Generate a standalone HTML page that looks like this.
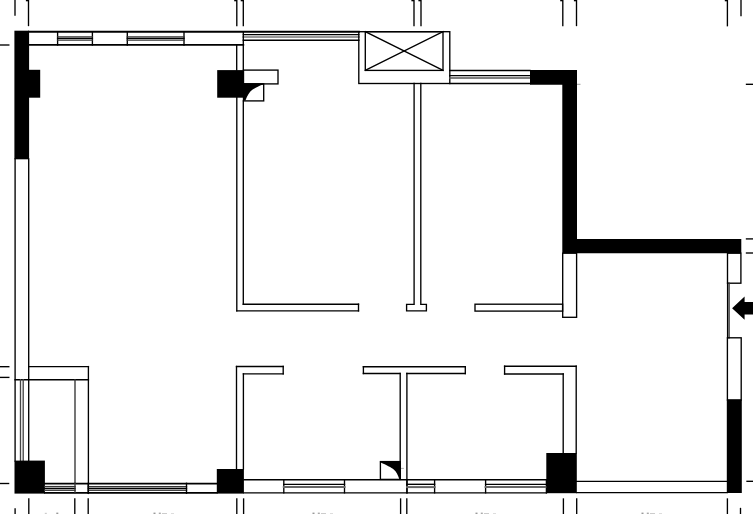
<!DOCTYPE html>
<html><head><meta charset="utf-8"><style>
html,body{margin:0;padding:0;background:#fff;width:753px;height:514px;overflow:hidden}
svg{display:block}
</style></head><body>
<svg width="753" height="514" viewBox="0 0 753 514">
<rect width="753" height="514" fill="#fff"/>
<line x1="15" y1="0" x2="15" y2="15" stroke="#000" stroke-width="1.35" stroke-linecap="square"/>
<line x1="28.5" y1="0" x2="28.5" y2="25.5" stroke="#000" stroke-width="1.35" stroke-linecap="square"/>
<line x1="236.8" y1="0" x2="236.8" y2="25.6" stroke="#000" stroke-width="1.35" stroke-linecap="square"/>
<line x1="243.3" y1="0" x2="243.3" y2="25.6" stroke="#000" stroke-width="1.35" stroke-linecap="square"/>
<line x1="414" y1="0" x2="414" y2="25.5" stroke="#000" stroke-width="1.35" stroke-linecap="square"/>
<line x1="421" y1="0" x2="421" y2="25.5" stroke="#000" stroke-width="1.35" stroke-linecap="square"/>
<line x1="562.8" y1="0" x2="562.8" y2="25.5" stroke="#000" stroke-width="1.35" stroke-linecap="square"/>
<line x1="576.5" y1="0" x2="576.5" y2="25.5" stroke="#000" stroke-width="1.35" stroke-linecap="square"/>
<line x1="727.4" y1="0" x2="727.4" y2="25.7" stroke="#000" stroke-width="1.35" stroke-linecap="square"/>
<line x1="741" y1="0" x2="741" y2="15.5" stroke="#000" stroke-width="1.35" stroke-linecap="square"/>
<rect x="25.9" y="0" width="2.6" height="1.3" fill="#000"/>
<rect x="234.20000000000002" y="0" width="2.6" height="1.3" fill="#000"/>
<rect x="240.70000000000002" y="0" width="2.6" height="1.3" fill="#000"/>
<rect x="411.4" y="0" width="2.6" height="1.3" fill="#000"/>
<rect x="418.4" y="0" width="2.6" height="1.3" fill="#000"/>
<rect x="560.1999999999999" y="0" width="2.6" height="1.3" fill="#000"/>
<rect x="573.9" y="0" width="2.6" height="1.3" fill="#000"/>
<rect x="724.8" y="0" width="2.6" height="1.3" fill="#000"/>
<rect x="153.5" y="512.6" width="2.0" height="1.4" fill="#999"/>
<rect x="158.8" y="512.6" width="2.0" height="1.4" fill="#aaa"/>
<rect x="162" y="513" width="5" height="1" fill="#ccc"/>
<rect x="171" y="513" width="3" height="1" fill="#ddd"/>
<rect x="312.5" y="512.6" width="2.0" height="1.4" fill="#999"/>
<rect x="317.8" y="512.6" width="2.0" height="1.4" fill="#aaa"/>
<rect x="321" y="513" width="5" height="1" fill="#ccc"/>
<rect x="330" y="513" width="3" height="1" fill="#ddd"/>
<rect x="475.5" y="512.6" width="2.0" height="1.4" fill="#999"/>
<rect x="480.8" y="512.6" width="2.0" height="1.4" fill="#aaa"/>
<rect x="484" y="513" width="5" height="1" fill="#ccc"/>
<rect x="493" y="513" width="3" height="1" fill="#ddd"/>
<rect x="641.5" y="512.6" width="2.0" height="1.4" fill="#999"/>
<rect x="646.8" y="512.6" width="2.0" height="1.4" fill="#aaa"/>
<rect x="650" y="513" width="5" height="1" fill="#ccc"/>
<rect x="659" y="513" width="3" height="1" fill="#ddd"/>
<rect x="44.8" y="512.8" width="2.0" height="1.2" fill="#ccc"/>
<rect x="56.3" y="512.6" width="2.0" height="1.4" fill="#999"/>
<line x1="0" y1="45" x2="8.8" y2="45" stroke="#000" stroke-width="1.35" stroke-linecap="square"/>
<line x1="0" y1="366.7" x2="8.8" y2="366.7" stroke="#000" stroke-width="1.35" stroke-linecap="square"/>
<line x1="0" y1="377.4" x2="8.8" y2="377.4" stroke="#000" stroke-width="1.35" stroke-linecap="square"/>
<line x1="0" y1="483.5" x2="8.6" y2="483.5" stroke="#000" stroke-width="1.35" stroke-linecap="square"/>
<line x1="746.5" y1="84.3" x2="753" y2="84.3" stroke="#000" stroke-width="1.35" stroke-linecap="square"/>
<line x1="746.5" y1="238.9" x2="753" y2="238.9" stroke="#000" stroke-width="1.35" stroke-linecap="square"/>
<line x1="746.5" y1="253" x2="753" y2="253" stroke="#000" stroke-width="1.35" stroke-linecap="square"/>
<line x1="747" y1="481.3" x2="753" y2="481.3" stroke="#000" stroke-width="1.35" stroke-linecap="square"/>
<line x1="577" y1="84.3" x2="580" y2="84.3" stroke="#888" stroke-width="0.8" stroke-linecap="square"/>
<line x1="15.1" y1="509" x2="15.1" y2="514" stroke="#000" stroke-width="1.35" stroke-linecap="square"/>
<line x1="28.8" y1="499" x2="28.8" y2="514" stroke="#000" stroke-width="1.35" stroke-linecap="square"/>
<line x1="74.8" y1="499" x2="74.8" y2="514" stroke="#000" stroke-width="1.35" stroke-linecap="square"/>
<line x1="88.2" y1="499" x2="88.2" y2="514" stroke="#000" stroke-width="1.35" stroke-linecap="square"/>
<line x1="236.8" y1="499" x2="236.8" y2="514" stroke="#000" stroke-width="1.35" stroke-linecap="square"/>
<line x1="243.6" y1="499" x2="243.6" y2="514" stroke="#000" stroke-width="1.35" stroke-linecap="square"/>
<line x1="400.6" y1="499" x2="400.6" y2="514" stroke="#000" stroke-width="1.35" stroke-linecap="square"/>
<line x1="406.8" y1="499" x2="406.8" y2="514" stroke="#000" stroke-width="1.35" stroke-linecap="square"/>
<line x1="563.4" y1="499" x2="563.4" y2="514" stroke="#000" stroke-width="1.35" stroke-linecap="square"/>
<line x1="576.7" y1="499" x2="576.7" y2="514" stroke="#000" stroke-width="1.35" stroke-linecap="square"/>
<line x1="727.4" y1="499" x2="727.4" y2="514" stroke="#000" stroke-width="1.35" stroke-linecap="square"/>
<line x1="740.5" y1="508.5" x2="740.5" y2="514" stroke="#000" stroke-width="1.35" stroke-linecap="square"/>
<line x1="15.1" y1="159" x2="15.1" y2="461" stroke="#000" stroke-width="1.35" stroke-linecap="square"/>
<line x1="28.7" y1="159" x2="28.7" y2="461" stroke="#000" stroke-width="1.35" stroke-linecap="square"/>
<rect x="14.4" y="30.7" width="14.7" height="128.6" fill="#000"/>
<rect x="29" y="69.8" width="11.2" height="27.9" fill="#000"/>
<line x1="15.1" y1="379.7" x2="88.4" y2="379.7" stroke="#000" stroke-width="1.35" stroke-linecap="square"/>
<line x1="28.7" y1="366.6" x2="88.4" y2="366.6" stroke="#000" stroke-width="1.35" stroke-linecap="square"/>
<line x1="88.4" y1="366.6" x2="88.4" y2="493.4" stroke="#000" stroke-width="1.35" stroke-linecap="square"/>
<line x1="75" y1="379.7" x2="75" y2="483.3" stroke="#333" stroke-width="1.35" stroke-linecap="square"/>
<line x1="20.5" y1="379.7" x2="20.5" y2="461" stroke="#444" stroke-width="1.35" stroke-linecap="square"/>
<line x1="23.2" y1="379.7" x2="23.2" y2="461" stroke="#444" stroke-width="1.35" stroke-linecap="square"/>
<rect x="14.5" y="460.6" width="30.4" height="33.0" fill="#000"/>
<line x1="29" y1="31.8" x2="358.8" y2="31.8" stroke="#000" stroke-width="2.1" stroke-linecap="square"/>
<line x1="29" y1="44.9" x2="243.4" y2="44.9" stroke="#000" stroke-width="1.6" stroke-linecap="square"/>
<line x1="57.6" y1="31.7" x2="57.6" y2="45" stroke="#000" stroke-width="1.35" stroke-linecap="square"/>
<line x1="92.4" y1="31.7" x2="92.4" y2="45" stroke="#000" stroke-width="1.35" stroke-linecap="square"/>
<line x1="57.6" y1="36.8" x2="92.4" y2="36.8" stroke="#333" stroke-width="1.35" stroke-linecap="square"/>
<line x1="57.6" y1="38.4" x2="92.4" y2="38.4" stroke="#000" stroke-width="1.35" stroke-linecap="square"/>
<line x1="57.6" y1="40.1" x2="92.4" y2="40.1" stroke="#333" stroke-width="1.35" stroke-linecap="square"/>
<line x1="127.3" y1="31.7" x2="127.3" y2="45" stroke="#000" stroke-width="1.35" stroke-linecap="square"/>
<line x1="184" y1="31.7" x2="184" y2="45" stroke="#000" stroke-width="1.35" stroke-linecap="square"/>
<line x1="127.3" y1="36.8" x2="184" y2="36.8" stroke="#333" stroke-width="1.35" stroke-linecap="square"/>
<line x1="127.3" y1="38.4" x2="184" y2="38.4" stroke="#000" stroke-width="1.35" stroke-linecap="square"/>
<line x1="127.3" y1="40.1" x2="184" y2="40.1" stroke="#333" stroke-width="1.35" stroke-linecap="square"/>
<line x1="243.4" y1="34.6" x2="358.8" y2="34.6" stroke="#000" stroke-width="1.35" stroke-linecap="square"/>
<line x1="243.4" y1="36.9" x2="358.8" y2="36.9" stroke="#999" stroke-width="2" stroke-linecap="square"/>
<line x1="243.4" y1="40.2" x2="358.8" y2="40.2" stroke="#000" stroke-width="1.5" stroke-linecap="square"/>
<rect x="358.8" y="31.7" width="91.0" height="51.8" fill="none" stroke="#000" stroke-width="1.35"/>
<rect x="365.3" y="31.7" width="77.7" height="38.7" fill="none" stroke="#000" stroke-width="1.35"/>
<line x1="365.3" y1="31.7" x2="443" y2="70.4" stroke="#000" stroke-width="1.35" stroke-linecap="square"/>
<line x1="443" y1="31.7" x2="365.3" y2="70.4" stroke="#000" stroke-width="1.35" stroke-linecap="square"/>
<line x1="449.8" y1="70.5" x2="530" y2="70.5" stroke="#000" stroke-width="1.35" stroke-linecap="square"/>
<line x1="449.8" y1="75.6" x2="530" y2="75.6" stroke="#000" stroke-width="1.35" stroke-linecap="square"/>
<line x1="449.8" y1="78.0" x2="530" y2="78.0" stroke="#555" stroke-width="1.35" stroke-linecap="square"/>
<line x1="449.8" y1="83.5" x2="530" y2="83.5" stroke="#000" stroke-width="1.35" stroke-linecap="square"/>
<polygon points="530,70 577,70 577,238.9 741.3,238.9 741.3,253.2 562.3,253.2 562.3,84.7 530,84.7" fill="#000"/>
<line x1="243.3" y1="31.7" x2="243.3" y2="70" stroke="#000" stroke-width="1.35" stroke-linecap="square"/>
<line x1="236.7" y1="45" x2="236.7" y2="70" stroke="#000" stroke-width="1.35" stroke-linecap="square"/>
<rect x="217.2" y="70.1" width="26.3" height="27.6" fill="#000"/>
<rect x="243.5" y="70.1" width="34.5" height="13.8" fill="none" stroke="#000" stroke-width="1.35"/>
<rect x="243.5" y="83.9" width="20.2" height="17.0" fill="none" stroke="#000" stroke-width="1.35"/>
<path d="M243.5,83.6 L263.5,83.6 L262.8,84.6 C258,86.6 254.5,88.2 252.3,89.8 C249.6,91.8 247.3,95.5 245.4,100.4 L243.5,100.6 Z" fill="#000" stroke="none" stroke-width="1.35"/>
<line x1="236.8" y1="97.7" x2="236.8" y2="310.9" stroke="#000" stroke-width="1.35" stroke-linecap="square"/>
<line x1="243.3" y1="100.9" x2="243.3" y2="304.2" stroke="#000" stroke-width="1.35" stroke-linecap="square"/>
<line x1="243.3" y1="304.2" x2="358.5" y2="304.2" stroke="#000" stroke-width="1.35" stroke-linecap="square"/>
<line x1="236.8" y1="310.9" x2="358.5" y2="310.9" stroke="#000" stroke-width="1.35" stroke-linecap="square"/>
<line x1="358.5" y1="304.2" x2="358.5" y2="310.9" stroke="#000" stroke-width="1.35" stroke-linecap="square"/>
<line x1="414.1" y1="83.5" x2="414.1" y2="304.4" stroke="#000" stroke-width="1.35" stroke-linecap="square"/>
<line x1="420.8" y1="83.5" x2="420.8" y2="304.4" stroke="#000" stroke-width="1.35" stroke-linecap="square"/>
<path d="M414.1,304.4 L406.6,304.4 L406.6,310.9 L426.4,310.9 L426.4,304.4 L420.8,304.4" fill="none" stroke="#000" stroke-width="1.35"/>
<rect x="475" y="304.2" width="87.6" height="6.9" fill="none" stroke="#000" stroke-width="1.35"/>
<rect x="562.7" y="253.2" width="13.9" height="64.1" fill="none" stroke="#000" stroke-width="1.35"/>
<line x1="401.2" y1="468.4" x2="403.4" y2="468.4" stroke="#999" stroke-width="0.8" stroke-linecap="square"/>
<rect x="727.5" y="253.2" width="13.4" height="30.0" fill="none" stroke="#000" stroke-width="1.35"/>
<line x1="727.6" y1="283.2" x2="727.6" y2="337.8" stroke="#000" stroke-width="1.35" stroke-linecap="square"/>
<line x1="729.1" y1="283.2" x2="729.1" y2="337.8" stroke="#333" stroke-width="1.35" stroke-linecap="square"/>
<rect x="727.4" y="337.8" width="13.8" height="62.2" fill="none" stroke="#000" stroke-width="1.35"/>
<rect x="726.8" y="399.6" width="15.0" height="93.4" fill="#000"/>
<polygon points="732.1,308.2 744.6,296.5 744.6,302 753,302 753,314.4 744.6,314.4 744.6,319.8" fill="#000"/>
<line x1="236.5" y1="366.5" x2="283.2" y2="366.5" stroke="#000" stroke-width="1.35" stroke-linecap="square"/>
<line x1="243.4" y1="373.9" x2="283.2" y2="373.9" stroke="#000" stroke-width="1.35" stroke-linecap="square"/>
<line x1="283.2" y1="366.5" x2="283.2" y2="373.9" stroke="#000" stroke-width="1.35" stroke-linecap="square"/>
<line x1="236.5" y1="366.5" x2="236.5" y2="469" stroke="#000" stroke-width="1.35" stroke-linecap="square"/>
<line x1="243.4" y1="373.9" x2="243.4" y2="469" stroke="#000" stroke-width="1.35" stroke-linecap="square"/>
<line x1="363.4" y1="366.7" x2="465.3" y2="366.7" stroke="#000" stroke-width="1.35" stroke-linecap="square"/>
<line x1="363.4" y1="373.5" x2="399.9" y2="373.5" stroke="#000" stroke-width="1.35" stroke-linecap="square"/>
<line x1="406.8" y1="373.5" x2="465.3" y2="373.5" stroke="#000" stroke-width="1.35" stroke-linecap="square"/>
<line x1="363.4" y1="366.7" x2="363.4" y2="373.5" stroke="#000" stroke-width="1.35" stroke-linecap="square"/>
<line x1="465.3" y1="366.7" x2="465.3" y2="373.5" stroke="#000" stroke-width="1.35" stroke-linecap="square"/>
<line x1="400.2" y1="373.5" x2="400.2" y2="479.4" stroke="#000" stroke-width="1.35" stroke-linecap="square"/>
<line x1="406.9" y1="373.5" x2="406.9" y2="492.8" stroke="#000" stroke-width="1.35" stroke-linecap="square"/>
<rect x="380.4" y="461.6" width="19.9" height="17.8" fill="none" stroke="#000" stroke-width="1.35"/>
<path d="M380.6,461.7 L400.2,461.7 L400.2,479.2 L399.2,478.8 C398,475.5 396.5,472 394,469.8 C391.5,467.6 386,465 380.8,462.6 Z" fill="#000" stroke="none" stroke-width="1.35"/>
<line x1="504.6" y1="366.2" x2="576.2" y2="366.2" stroke="#000" stroke-width="1.35" stroke-linecap="square"/>
<line x1="504.6" y1="374" x2="563.2" y2="374" stroke="#000" stroke-width="1.35" stroke-linecap="square"/>
<line x1="504.6" y1="366.2" x2="504.6" y2="374" stroke="#000" stroke-width="1.35" stroke-linecap="square"/>
<line x1="576.2" y1="366.2" x2="576.2" y2="453" stroke="#000" stroke-width="1.35" stroke-linecap="square"/>
<line x1="563.2" y1="374" x2="563.2" y2="453" stroke="#000" stroke-width="1.35" stroke-linecap="square"/>
<line x1="44.9" y1="483.7" x2="216.8" y2="483.7" stroke="#000" stroke-width="1.7" stroke-linecap="square"/>
<line x1="44.9" y1="492.9" x2="216.8" y2="492.9" stroke="#000" stroke-width="1.7" stroke-linecap="square"/>
<line x1="44.9" y1="486.6" x2="75" y2="486.6" stroke="#333" stroke-width="1.35" stroke-linecap="square"/>
<line x1="44.9" y1="488.5" x2="75" y2="488.5" stroke="#000" stroke-width="1.35" stroke-linecap="square"/>
<line x1="44.9" y1="490.3" x2="75" y2="490.3" stroke="#444" stroke-width="1.35" stroke-linecap="square"/>
<line x1="88.4" y1="486.6" x2="186.5" y2="486.6" stroke="#333" stroke-width="1.35" stroke-linecap="square"/>
<line x1="88.4" y1="488.5" x2="186.5" y2="488.5" stroke="#000" stroke-width="1.35" stroke-linecap="square"/>
<line x1="88.4" y1="490.3" x2="186.5" y2="490.3" stroke="#444" stroke-width="1.35" stroke-linecap="square"/>
<line x1="75" y1="483.3" x2="75" y2="493.3" stroke="#333" stroke-width="1.35" stroke-linecap="square"/>
<line x1="88.2" y1="483.3" x2="88.2" y2="493.3" stroke="#000" stroke-width="1.35" stroke-linecap="square"/>
<line x1="186.5" y1="483.3" x2="186.5" y2="493.3" stroke="#000" stroke-width="1.35" stroke-linecap="square"/>
<rect x="216.8" y="469" width="27.1" height="24.6" fill="#000"/>
<line x1="243.9" y1="479.7" x2="546.4" y2="479.7" stroke="#000" stroke-width="1.35" stroke-linecap="square"/>
<line x1="243.9" y1="492.8" x2="546.4" y2="492.8" stroke="#000" stroke-width="1.35" stroke-linecap="square"/>
<line x1="283.8" y1="479.7" x2="283.8" y2="492.8" stroke="#000" stroke-width="1.35" stroke-linecap="square"/>
<line x1="344.5" y1="479.7" x2="344.5" y2="492.8" stroke="#000" stroke-width="1.35" stroke-linecap="square"/>
<line x1="283.8" y1="484.3" x2="344.5" y2="484.3" stroke="#000" stroke-width="1.35" stroke-linecap="square"/>
<line x1="283.8" y1="487.1" x2="344.5" y2="487.1" stroke="#666" stroke-width="2" stroke-linecap="square"/>
<line x1="407" y1="479.7" x2="407" y2="492.8" stroke="#000" stroke-width="1.35" stroke-linecap="square"/>
<line x1="434.6" y1="479.7" x2="434.6" y2="492.8" stroke="#000" stroke-width="1.35" stroke-linecap="square"/>
<line x1="407" y1="484.3" x2="434.6" y2="484.3" stroke="#000" stroke-width="1.35" stroke-linecap="square"/>
<line x1="407" y1="487.1" x2="434.6" y2="487.1" stroke="#666" stroke-width="2" stroke-linecap="square"/>
<line x1="485.6" y1="479.7" x2="485.6" y2="492.8" stroke="#000" stroke-width="1.35" stroke-linecap="square"/>
<line x1="546.4" y1="479.7" x2="546.4" y2="492.8" stroke="#000" stroke-width="1.35" stroke-linecap="square"/>
<line x1="485.6" y1="484.3" x2="546.4" y2="484.3" stroke="#000" stroke-width="1.35" stroke-linecap="square"/>
<line x1="485.6" y1="487.1" x2="546.4" y2="487.1" stroke="#666" stroke-width="2" stroke-linecap="square"/>
<rect x="546.3" y="453" width="30.5" height="40.2" fill="#000"/>
<line x1="576.7" y1="481.3" x2="727.4" y2="481.3" stroke="#000" stroke-width="1.35" stroke-linecap="square"/>
<line x1="576.7" y1="492.6" x2="727.4" y2="492.6" stroke="#000" stroke-width="1.35" stroke-linecap="square"/>
</svg>
</body></html>
